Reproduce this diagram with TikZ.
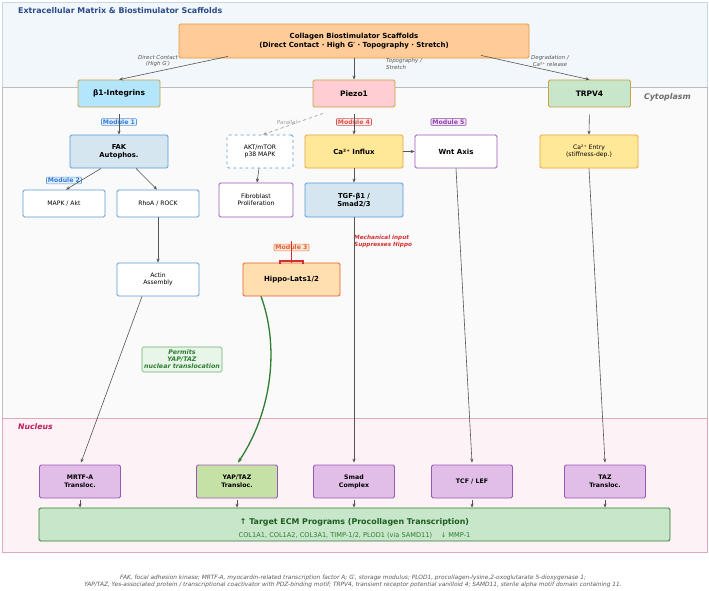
\documentclass[tikz,border=0pt]{standalone}
\usepackage{fontspec}
\setmainfont{DejaVu Sans}
\usetikzlibrary{arrows.meta}
\definecolor{ecmbg}{HTML}{F2F7FB}
\definecolor{ecmln}{HTML}{C9D7E3}
\definecolor{cytbg}{HTML}{FAFAFA}
\definecolor{cytln}{HTML}{BDBDBD}
\definecolor{nucbg}{HTML}{FDF3F7}
\definecolor{nucln}{HTML}{E2A7C0}
\definecolor{titleblue}{HTML}{2C4A8A}
\definecolor{nuctext}{HTML}{C2185B}
\definecolor{arrgray}{HTML}{555555}
\definecolor{collfill}{HTML}{FFCC99}
\definecolor{collln}{HTML}{E39A3E}
\definecolor{goldln}{HTML}{C9A445}
\definecolor{intfill}{HTML}{B3E5FC}
\definecolor{piezofill}{HTML}{FFCDD2}
\definecolor{trpfill}{HTML}{C8E6C9}
\definecolor{blueln}{HTML}{5B9BD5}
\definecolor{steelfill}{HTML}{D6E6F0}
\definecolor{purpln}{HTML}{9B59B6}
\definecolor{lavfill}{HTML}{E1BEE7}
\definecolor{yelfill}{HTML}{FFE999}
\definecolor{orln}{HTML}{E6A23C}
\definecolor{hipfill}{HTML}{FFDEB0}
\definecolor{hipln}{HTML}{E5602D}
\definecolor{yapfill}{HTML}{C5E1A5}
\definecolor{tgtfill}{HTML}{C8E6C9}
\definecolor{dkgreen}{HTML}{2E7D32}
\definecolor{dkgreentext}{HTML}{1B5E20}
\definecolor{permfill}{HTML}{E8F5E9}
\definecolor{permln}{HTML}{6AAE6E}
\definecolor{inhred}{HTML}{D32F2F}
\definecolor{m1text}{HTML}{3A7BD5}
\definecolor{m1fill}{HTML}{E3F0FB}
\definecolor{m4text}{HTML}{D9534F}
\definecolor{m4fill}{HTML}{FDECEC}
\definecolor{m5text}{HTML}{8E44AD}
\definecolor{m5fill}{HTML}{F3E5F5}
\definecolor{m3text}{HTML}{E5602D}
\definecolor{m3fill}{HTML}{FDE7D9}
\definecolor{lblgray}{HTML}{555555}
\newcommand\fsz[2]{\fontsize{#1}{#2}\selectfont}
\tikzset{
  base/.style={rounded corners=1.5pt, align=center, inner sep=1pt, line width=0.8pt},
  membr/.style={base, draw=goldln, minimum width=82pt, minimum height=27pt, font=\fsz{7.5}{9}\bfseries},
  midbox/.style={base, minimum width=98pt, minimum height=33pt},
  smallbox/.style={base, fill=white, minimum width=82pt, minimum height=27pt, font=\fsz{6.1}{7.3}},
  nucbox/.style={base, draw=purpln, fill=lavfill, minimum width=81pt, minimum height=33pt, font=\fsz{6.2}{7.8}\bfseries},
  modlbl/.style={rounded corners=1pt, inner xsep=1.5pt, inner ysep=1pt, line width=0.6pt, font=\fsz{6.2}{7}\bfseries},
  elbl/.style={align=center, text=lblgray, font=\fsz{5.5}{6.2}\itshape, inner sep=0pt},
  arr/.style={-{Stealth[length=4pt,width=3.2pt]}, draw=arrgray, line width=0.6pt},
}
\begin{document}
\begin{tikzpicture}[x=1pt,y=-1pt]
\useasboundingbox (0,0) rectangle (709,590);
% regions
\fill[white] (0,0) rectangle (709,590);
\draw[ecmln, fill=ecmbg, line width=0.6pt] (2,2) rectangle (707,87);
\draw[cytln, fill=cytbg, line width=0.6pt] (2,87) rectangle (707,418);
\draw[nucln, fill=nucbg, line width=0.8pt] (2,418) rectangle (707,552);
\node[anchor=west, text=titleblue, font=\fsz{7.9}{9}\bfseries, inner sep=0pt] (ttl) at (18,11) {Extracellular Matrix \& Biostimulator Scaffolds};
\node[anchor=east, text=gray!85!black, font=\fsz{7.9}{9}\bfseries\itshape, inner sep=0pt] (cyt) at (691,97) {Cytoplasm};
\node[anchor=west, text=nuctext, font=\fsz{7.7}{9}\bfseries\itshape, inner sep=0pt] (nuc) at (18,427) {Nucleus};

% top source
\node[base, draw=collln, fill=collfill, minimum width=350pt, minimum height=34pt, font=\fsz{7}{8.5}\bfseries] (coll) at (354,41) {Collagen Biostimulator Scaffolds\\(Direct Contact · High G′ · Topography · Stretch)};

% membrane receptors
\node[membr, fill=intfill] (integ) at (119,93.5) {β1-Integrins};
\node[membr, fill=piezofill] (piezo) at (354,93.5) {Piezo1};
\node[membr, fill=trpfill] (trpv) at (589.5,93.5) {TRPV4};

% module labels
\node[modlbl, draw=blueln, fill=m1fill, text=m1text] (mod1) at (119,122) {Module 1};
\node[modlbl, draw=blueln, fill=m1fill, text=m1text] (mod2) at (64,180.5) {Module 2};
\node[modlbl, draw=m4text, fill=m4fill, text=m4text] (mod4) at (354,122) {Module 4};
\node[modlbl, draw=m5text, fill=m5fill, text=m5text] (mod5) at (448.5,122) {Module 5};
\node[modlbl, draw=m3text!80, fill=m3fill, text=m3text] (mod3) at (291.5,247.5) {Module 3};

% cytoplasm nodes
\node[midbox, draw=blueln, fill=steelfill, font=\fsz{6.8}{8.2}\bfseries] (fak) at (119,151.5) {FAK\\Autophos.};
\node[smallbox, draw=blueln] (mapk) at (64,203.5) {MAPK / Akt};
\node[smallbox, draw=blueln] (rhoa) at (158,203.5) {RhoA / ROCK};
\node[smallbox, draw=blueln, minimum height=33pt] (actin) at (158,279.5) {Actin\\Assembly};
\node[smallbox, draw=blueln, dashed, minimum width=66pt, minimum height=33pt] (akt) at (260,151.5) {AKT/mTOR\\p38 MAPK};
\node[smallbox, draw=purpln, minimum width=74pt, minimum height=34pt] (fib) at (256,200) {Fibroblast\\Proliferation};
\node[midbox, draw=orln, fill=yelfill, font=\fsz{7}{8.5}\bfseries] (ca) at (354,151.5) {Ca²⁺ Influx};
\node[midbox, draw=purpln, fill=white, minimum width=82pt, font=\fsz{7}{8.5}\bfseries] (wnt) at (456,151.5) {Wnt Axis};
\node[midbox, draw=blueln, fill=steelfill, minimum height=34pt, font=\fsz{6.8}{8.2}\bfseries] (tgf) at (354,200) {TGF-β1 /\\Smad2/3};
\node[midbox, draw=orln, fill=yelfill, font=\fsz{6.1}{7.3}] (caent) at (589,151.5) {Ca²⁺ Entry\\(stiffness-dep.)};
\node[midbox, draw=hipln, fill=hipfill, minimum width=97pt, font=\fsz{7}{8.5}\bfseries] (hippo) at (291.5,279.5) {Hippo-Lats1/2};
\node[base, draw=permln, fill=permfill, line width=0.6pt, minimum width=80pt, minimum height=25pt, text=dkgreen, font=\fsz{6.3}{7}\bfseries\itshape, inner sep=0.5pt] (perm) at (182,359.5) {Permits\\YAP/TAZ\\nuclear translocation};
\node[anchor=north west, align=left, text=inhred, font=\fsz{5.7}{6.3}\bfseries\itshape, inner sep=0pt] (mech) at (354,235.3) {Mechanical input\\Suppresses Hippo};

% nucleus nodes
\node[nucbox] (mrtf) at (80,481.5) {MRTF-A\\Transloc.};
\node[nucbox, fill=yapfill] (yap) at (237,481.5) {YAP/TAZ\\Transloc.};
\node[nucbox] (smad) at (354,481.5) {Smad\\Complex};
\node[nucbox] (tcf) at (472,481.5) {TCF / LEF};
\node[nucbox] (taz) at (605,481.5) {TAZ\\Transloc.};
\node[base, draw=dkgreen, fill=tgtfill, minimum width=631pt, minimum height=33pt] (tgt) at (354.5,524.5) {};
\node[text=dkgreentext, font=\fsz{7.9}{9}\bfseries, inner sep=0pt] (tgt1) at (354.5,522.5) {↑ Target ECM Programs (Procollagen Transcription)};
\node[text=dkgreen, font=\fsz{6.6}{7.5}, inner sep=0pt] (tgt2) at (354.5,535.5) {COL1A1, COL1A2, COL3A1, TIMP-1/2, PLOD1 (via SAMD11)\quad\ ↓ MMP-1};

% edge labels
\node[elbl] (l1) at (158,61) {Direct Contact\\(High G′)};
\node[elbl, anchor=west, align=left] (l2) at (386,64) {Topography /\\Stretch};
\node[elbl] (l3) at (550,61) {Degradation /\\Ca²⁺ release};
\node[elbl, text=gray!75] (l4) at (287,122) {Parallel};

% arrows
\draw[arr] ([xshift=-126pt,yshift=2pt]coll.south) -- (integ.north);
\draw[arr] (coll.south) -- (piezo.north);
\draw[arr] ([xshift=127pt,yshift=3pt]coll.south) -- (trpv.north);
\draw[arr, shorten <=7pt] (integ.south) -- (fak.north);
\draw[arr] ([xshift=-18pt]fak.south) -- ([xshift=2pt]mapk.north);
\draw[arr] ([xshift=17pt]fak.south) -- ([xshift=-1pt]rhoa.north);
\draw[arr] (rhoa.south) -- (actin.north);
\draw[arr] ([xshift=-16pt]actin.south) -- ([xshift=1pt,yshift=2pt]mrtf.north);
\draw[arr, dashed, draw=gray!80] ([xshift=-31pt,yshift=-6pt]piezo.south) -- ([xshift=3pt]akt.north);
\draw[arr] ([xshift=-1pt]akt.south) -- ([xshift=1pt]fib.north);
\draw[arr, shorten <=7pt] (piezo.south) -- (ca.north);
\draw[arr] (ca.east) -- (wnt.west);
\draw[arr] (ca.south) -- (tgf.north);
\draw[arr] (tgf.south) -- ([yshift=2pt]smad.north);
\draw[arr] (wnt.south) -- ([yshift=2pt]tcf.north);
\draw[arr, shorten <=7pt] (trpv.south) -- (caent.north);
\draw[arr] (caent.south) -- ([yshift=2pt]taz.north);
\foreach \n in {mrtf,yap,smad,tcf,taz}{
  \draw[arr] ([yshift=-2pt]\n.south) -- (\n.south |- tgt.north);
}
% inhibition
\coordinate (inh) at (291.5,241);
\draw[inhred, line width=1pt] (inh) -- (inh |- hippo.north);
\draw[inhred, line width=1.3pt] ([xshift=-11.5pt,yshift=-1.5pt]hippo.north) -- ++(0pt,3pt) -- ++(23pt,0pt) -- ++(0pt,-3pt);
% green curve
\draw[-{Stealth[length=5pt,width=4pt]}, draw=dkgreen, line width=1.3pt] ([xshift=-30.5pt]hippo.south) .. controls (279,345) and (273,410) .. ([xshift=1pt,yshift=2pt]yap.north);

% footnote
\node[align=center, text=gray!70!black, font=\fsz{5.85}{7}\itshape, inner sep=0pt] (foot) at (353,581.5) {FAK, focal adhesion kinase; MRTF-A, myocardin-related transcription factor A; G′, storage modulus; PLOD1, procollagen-lysine,2-oxoglutarate 5-dioxygenase 1;\\YAP/TAZ, Yes-associated protein / transcriptional coactivator with PDZ-binding motif; TRPV4, transient receptor potential vanilloid 4; SAMD11, sterile alpha motif domain containing 11.};
\end{tikzpicture}
\end{document}
